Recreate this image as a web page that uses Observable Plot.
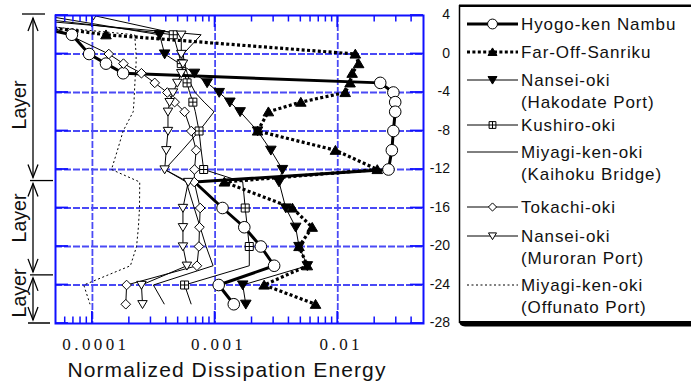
<!DOCTYPE html>
<html><head><meta charset="utf-8">
<script src="https://cdn.jsdelivr.net/npm/d3@7"></script>
<script src="https://cdn.jsdelivr.net/npm/@observablehq/plot@0.6"></script>
<style>
html,body{margin:0;padding:0;background:#fff;}
#chart{width:691px;height:385px;overflow:hidden;}
</style>
</head><body><div id="chart"></div>
<script>
// ---------- data ----------
const depths = [4, 2, 0, -1, -2, -3, -4, -5, -6, -8, -10, -12, -13.3, -16, -18, -20, -22, -24, -26];
const hyogoKenNambu = [1.15e-5, 6.8e-5, 9.4e-5, 1.29e-4, 1.78e-4, 0.0222, 0.0284, 0.0294, 0.0294, 0.0284, 0.0276, 0.0259, 6.8e-4, 1.15e-3, 1.73e-3, 2.36e-3, 3.03e-3, 1.07e-3, 1.42e-3];
const farOffSanriku = [8e-6, 1.29e-4, 0.0139, 0.0148, 0.0131, 0.0126, 0.0115, 5.0e-3, 2.72e-3, 2.22e-3, 9.57e-3, 0.021, 1.19e-3, 4.27e-3, 6.19e-3, 4.83e-3, 5.65e-3, 2.51e-3, 6.59e-3];
const nanseiOkiHakodate = [4e-5, 3.53e-4, 3.88e-4, null, 6.79e-4, 8.61e-4, 1.08e-3, 1.32e-3, 1.60e-3, 2.22e-3, 2.85e-3, 3.54e-3, 3.32e-3, 3.77e-3, 4.54e-3, 4.83e-3, 5.65e-3, 1.68e-3, 1.78e-3];
const kushiroOki = [2.3e-5, 4.56e-4, 5.05e-4, 5.3e-4, 5.6e-4, 5.91e-4, 6.2e-4, 6.59e-4, 6.9e-4, 7.4e-4, 7.7e-4, 8.07e-4, 1.68e-3, 1.76e-3, 1.83e-3, 1.9e-3, 1.9e-3, 5.64e-4, 6.39e-4];
const miyagiKenOkiKaihoku = [1.2e-5, 7.69e-4, 5.5e-4, 5.6e-4, 5.93e-4, 6.27e-4, 6.88e-4, 8.14e-4, 9.8e-4, 7.42e-4, 5.4e-4, 3.89e-4, 5.82e-4, 6.76e-4, 7.56e-4, 8.45e-4, 9.63e-4, 3.14e-4, 3.86e-4];
const tokachiOki = [3e-5, null, 1.36e-4, 1.79e-4, 2.51e-4, 3.22e-4, 4.08e-4, 4.68e-4, 5.64e-4, 6.39e-4, 7.01e-4, 6.79e-4, 6.76e-4, 7.56e-4, 7.46e-4, 7.38e-4, 7.11e-4, 1.90e-4, 1.87e-4];
const nanseiOkiMuroran = [1.02e-4, 5.3e-4, 5.3e-4, 5.47e-4, 5.3e-4, 4.92e-4, 4.54e-4, 4.26e-4, 4.13e-4, 4.13e-4, 4.0e-4, 3.88e-4, 6.04e-4, 5.47e-4, 5.47e-4, 5.47e-4, 5.89e-4, 2.51e-4, 2.56e-4];
const miyagiKenOkiOffunato = [5e-6, 2.21e-4, 2.27e-4, 2.27e-4, 2.24e-4, 2.22e-4, 2.2e-4, 2.18e-4, 2.15e-4, 1.78e-4, 1.6e-4, 1.43e-4, 2.43e-4, 2.42e-4, 2.37e-4, 2.29e-4, 2.04e-4, 8.5e-5, 9.56e-5];

const seriesNames = [
  ["Hyogo-ken Nambu"],
  ["Far-Off-Sanriku"],
  ["Nansei-oki", "(Hakodate Port)"],
  ["Kushiro-oki"],
  ["Miyagi-ken-oki", "(Kaihoku Bridge)"],
  ["Tokachi-oki"],
  ["Nansei-oki", "(Muroran Port)"],
  ["Miyagi-ken-oki", "(Offunato Port)"]
];
const yTicks = [4, 0, -4, -8, -12, -16, -20, -24, -28];
const yTickLabels = ["4", "0", "-4", "-8", "-12", "-16", "-20", "-24", "-28"];
const xTicks = [0.0001, 0.001, 0.01];
const xTickLabels = ["0.0001", "0.001", "0.01"];
const xMinorTicks = [6e-5, 7e-5, 8e-5, 9e-5, 2e-4, 3e-4, 4e-4, 5e-4, 6e-4, 7e-4, 8e-4, 9e-4,
  2e-3, 3e-3, 4e-3, 5e-3, 6e-3, 7e-3, 8e-3, 9e-3, 2e-2, 3e-2, 4e-2];
const layerBounds = [4, -13.2, -23, -28];
const layerLabel = "Layer";
const xTitle = "Normalized Dissipation Energy";

(function () {
// ---------- styles ----------
const BLUE = "#1010ff";
const GRID = "#4a4af5";
const FONT = "'Liberation Sans', Arial, sans-serif";
function sym(fn) { return {draw(ctx, size) { const r = Math.sqrt(size / Math.PI); fn(ctx, r); }}; }
const circleSym = sym((c, r) => { c.moveTo(r, 0); c.arc(0, 0, r, 0, 2 * Math.PI); c.closePath(); });
const triUp = sym((c, r) => { c.moveTo(0, -r); c.lineTo(r * 1.1, r * 0.85); c.lineTo(-r * 1.1, r * 0.85); c.closePath(); });
const triDown = sym((c, r) => { c.moveTo(0, r); c.lineTo(r * 1.1, -r * 0.85); c.lineTo(-r * 1.1, -r * 0.85); c.closePath(); });
const squarePlus = sym((c, r) => { c.rect(-r, -r, 2 * r, 2 * r); c.moveTo(-r, 0); c.lineTo(r, 0); c.moveTo(0, -r); c.lineTo(0, r); });
const diamondSym = sym((c, r) => { c.moveTo(0, -r); c.lineTo(r, 0); c.lineTo(0, r); c.lineTo(-r, 0); c.closePath(); });

const styles = [
  {values: hyogoKenNambu, width: 3, dash: null, symbol: circleSym, r: 5.8, fill: "white", keep: d => d.depth !== -13.3},
  {values: farOffSanriku, width: 3.2, dash: "3,2.4", symbol: triUp, r: 4.8, fill: "black", keep: () => true},
  {values: nanseiOkiHakodate, width: 1, dash: null, symbol: triDown, r: 4.8, fill: "black", keep: () => true},
  {values: kushiroOki, width: 1, dash: null, symbol: squarePlus, r: 4, fill: "white", keep: d => d.i % 2 === 1},
  {values: miyagiKenOkiKaihoku, width: 1, dash: null, symbol: null},
  {values: tokachiOki, width: 1, dash: null, symbol: diamondSym, r: 4.8, fill: "white", keep: () => true},
  {values: nanseiOkiMuroran, width: 1, dash: null, symbol: triDown, r: 4.3, fill: "white", keep: () => true},
  {values: miyagiKenOkiOffunato, width: 1, dash: "2,2.5", symbol: null}
];

const rowsOf = vals => depths.map((d, i) => ({depth: d, value: vals[i], i})).filter(r => r.value != null);

const lineMarks = styles.map(s => Plot.line(rowsOf(s.values), {
  x: "value", y: "depth", stroke: "black", strokeWidth: s.width,
  strokeDasharray: s.dash || undefined, strokeLinecap: "butt", strokeLinejoin: "miter", clip: true
}));
const dotMarks = styles.filter(s => s.symbol).map(s => Plot.dot(rowsOf(s.values).filter(s.keep), {
  x: "value", y: "depth", symbol: s.symbol, r: s.r, fill: s.fill, stroke: "black", strokeWidth: 1, clip: true
}));

const plot = Plot.plot({
  width: 691, height: 385,
  marginLeft: 55, marginRight: 268, marginTop: 15, marginBottom: 62,
  x: {type: "log", domain: [5e-5, 0.05], axis: null},
  y: {domain: [-28, 4], axis: null},
  style: {background: "#fff", fontFamily: FONT},
  marks: [
    Plot.ruleX(xTicks, {stroke: GRID, strokeWidth: 1.8, strokeDasharray: "7,2"}),
    Plot.ruleY(yTicks.slice(1, -1), {stroke: GRID, strokeWidth: 1.8, strokeDasharray: "7,2"}),
    ...lineMarks,
    ...dotMarks,
    Plot.frame({stroke: BLUE, strokeWidth: 2})
  ]
});
document.getElementById("chart").appendChild(plot);

// ---------- decorations via the plot's scales ----------
const svg = d3.select(plot);
const xs = plot.scale("x"), ys = plot.scale("y");
const X = v => xs.apply(v), Y = v => ys.apply(v);
const fLeft = X(5e-5), fRight = X(0.05), fTop = Y(4), fBottom = Y(-28);
const g = svg.append("g");

xMinorTicks.forEach(v => {
  g.append("line").attr("x1", X(v)).attr("x2", X(v)).attr("y1", fTop).attr("y2", fTop + 6.5).attr("stroke", BLUE).attr("stroke-width", 1.5);
  g.append("line").attr("x1", X(v)).attr("x2", X(v)).attr("y1", fBottom).attr("y2", fBottom - 6.5).attr("stroke", BLUE).attr("stroke-width", 1.5);
});
xTicks.forEach(v => {
  g.append("line").attr("x1", X(v)).attr("x2", X(v)).attr("y1", fTop).attr("y2", fTop + 12).attr("stroke", BLUE).attr("stroke-width", 1.8);
  g.append("line").attr("x1", X(v)).attr("x2", X(v)).attr("y1", fBottom).attr("y2", fBottom - 12).attr("stroke", BLUE).attr("stroke-width", 1.8);
});
yTicks.forEach(v => {
  g.append("line").attr("x1", fLeft).attr("x2", fLeft + 13).attr("y1", Y(v)).attr("y2", Y(v)).attr("stroke", BLUE).attr("stroke-width", 1.8);
  g.append("line").attr("x1", fRight).attr("x2", fRight - 13).attr("y1", Y(v)).attr("y2", Y(v)).attr("stroke", BLUE).attr("stroke-width", 1.8);
});

yTicks.forEach((v, i) => {
  g.append("text").attr("x", fRight + 27).attr("y", Y(v) - 1).attr("dy", "0.36em")
    .attr("text-anchor", "end").attr("font-size", 14).attr("fill", "#111")
    .attr("font-family", FONT).text(yTickLabels[i]);
});
xTicks.forEach((v, i) => {
  g.append("text").attr("x", X(v) + 4).attr("y", fBottom + 27)
    .attr("text-anchor", "middle").attr("font-size", 17).attr("letter-spacing", "3.4px")
    .attr("font-family", "'Liberation Serif', 'Times New Roman', serif").attr("fill", "#111")
    .text(xTickLabels[i]);
});
g.append("text").attr("x", 227).attr("y", 377).attr("text-anchor", "middle")
  .attr("font-size", 21).attr("letter-spacing", "1.1px").attr("fill", "#111")
  .attr("font-family", FONT).text(xTitle);

// layer annotations
const ax = 33;
function arrowHead(xc, yTip, dir) {
  g.append("path").attr("d", `M${xc - 5},${yTip - dir * 13}L${xc},${yTip}L${xc + 5},${yTip - dir * 13}`)
    .attr("fill", "none").attr("stroke", "black").attr("stroke-width", 1.3);
}
g.append("line").attr("x1", 22).attr("x2", 45).attr("y1", Y(layerBounds[0]) - 1).attr("y2", Y(layerBounds[0]) - 1).attr("stroke", "black").attr("stroke-width", 1.3);
g.append("line").attr("x1", 30).attr("x2", 53).attr("y1", Y(layerBounds[1])).attr("y2", Y(layerBounds[1])).attr("stroke", "black").attr("stroke-width", 1.3);
g.append("line").attr("x1", 30).attr("x2", 53).attr("y1", Y(layerBounds[2])).attr("y2", Y(layerBounds[2])).attr("stroke", "black").attr("stroke-width", 1.3);
g.append("line").attr("x1", 28).attr("x2", 50).attr("y1", Y(layerBounds[3])).attr("y2", Y(layerBounds[3])).attr("stroke", "black").attr("stroke-width", 1.5);
const labelCenters = [105, 218, 293];
for (let k = 0; k < 3; k++) {
  const a = Y(layerBounds[k]) + 3, b = Y(layerBounds[k + 1]) - 3;
  g.append("line").attr("x1", ax).attr("x2", ax).attr("y1", a).attr("y2", b).attr("stroke", "black").attr("stroke-width", 1.3);
  arrowHead(ax, a, -1);
  arrowHead(ax, b, 1);
  g.append("text").attr("transform", `translate(18.5,${labelCenters[k]}) rotate(-90)`)
    .attr("text-anchor", "middle").attr("dy", "0.36em").attr("font-size", 19.5).attr("fill", "#111")
    .attr("font-family", FONT).text(layerLabel);
}

// legend
const lg = svg.append("g");
lg.append("line").attr("x1", 459.5).attr("x2", 459.5).attr("y1", 5).attr("y2", 323).attr("stroke", "black").attr("stroke-width", 1.5);
lg.append("line").attr("x1", 459).attr("x2", 691).attr("y1", 5.8).attr("y2", 5.8).attr("stroke", "black").attr("stroke-width", 2.4);
lg.append("path").attr("d", "M459,320 Q459,326.5 465,326.5 L691,326.5 L691,321 L459,321 Z").attr("fill", "black");
const entryY = [24, 52, 80, 125, 152, 207, 236, 285];
seriesNames.forEach((names, k) => {
  const s = styles[k], yy = entryY[k];
  const ln = lg.append("line").attr("x1", 467).attr("x2", 518).attr("y1", yy).attr("y2", yy)
    .attr("stroke", "black").attr("stroke-width", s.width);
  if (s.dash) ln.attr("stroke-dasharray", s.dash);
  if (s.symbol) {
    lg.append("path").attr("transform", `translate(492.5,${yy})`)
      .attr("d", d3.symbol(s.symbol, Math.PI * (s.r * 0.85) ** 2)())
      .attr("fill", s.fill).attr("stroke", "black").attr("stroke-width", 1);
  }
  names.forEach((t, j) => {
    lg.append("text").attr("x", 521).attr("y", yy + j * 22).attr("dy", "0.36em")
      .attr("text-anchor", "start")
      .attr("font-size", 17).attr("letter-spacing", "0.9px").attr("fill", "#111")
      .attr("font-family", FONT).text(t);
  });
});
})();
</script>
</body></html>
